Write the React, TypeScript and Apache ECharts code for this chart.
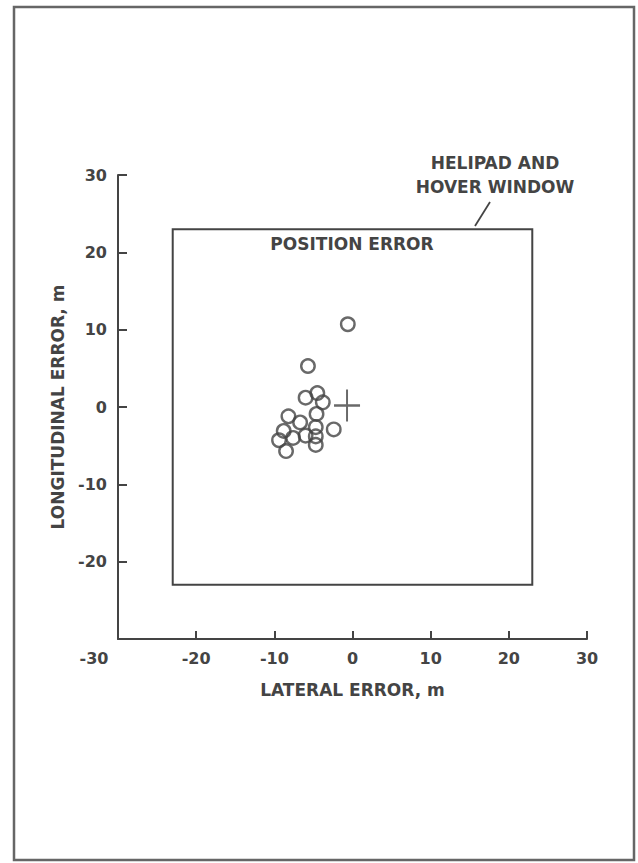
import React, { useEffect, useRef } from "react";
import * as echarts from "echarts";

const LATERAL = [-0.6, -5.7, -6.0, -4.5, -3.8, -4.6, -8.2, -6.7, -4.7, -2.4, -8.8, -7.6, -6.0, -4.7, -9.4, -4.7, -8.5];
const LONGITUDINAL = [10.7, 5.3, 1.2, 1.8, 0.6, -0.9, -1.2, -2.0, -2.6, -2.9, -3.1, -4.0, -3.7, -3.8, -4.3, -4.9, -5.7];
const TARGET = [-0.7, 0.2];
const WINDOW_HALF = 23;
const AXIS_MIN = -30;
const AXIS_MAX = 30;
const AXIS_STEP = 10;

const INK = "#444444";
const FONT = "DejaVu Sans";

export default function App() {
  const ref = useRef<HTMLDivElement>(null);
  useEffect(() => {
    if (!ref.current) return;
    const chart = echarts.init(ref.current, null, { renderer: "svg" });
    const points = LATERAL.map((x, i) => [x, LONGITUDINAL[i]]);
    const txt = { fontFamily: FONT, fontSize: 17, fontWeight: "bold", fill: INK };
    chart.setOption({
      animation: false,
      backgroundColor: "#ffffff",
      grid: { left: 118, right: 51, top: 175, bottom: 224 },
      xAxis: {
        type: "value",
        min: AXIS_MIN,
        max: AXIS_MAX,
        interval: AXIS_STEP,
        name: "LATERAL ERROR, m",
        nameLocation: "middle",
        nameGap: 42,
        nameTextStyle: { fontFamily: FONT, fontSize: 17, fontWeight: "bold", color: INK },
        axisLine: { show: true, onZero: false, lineStyle: { color: INK, width: 2 } },
        axisTick: { show: true, inside: true, length: 8, lineStyle: { color: INK, width: 2 } },
        axisLabel: {
          margin: 11,
          fontFamily: FONT,
          fontSize: 16,
          fontWeight: "bold",
          color: INK,
          formatter: (v: number) => (v === AXIS_MIN ? "{m|" + v + "}" : String(v)),
          rich: {
            m: { fontFamily: FONT, fontSize: 16, fontWeight: "bold", color: INK, padding: [0, 48, 0, 0] },
          },
        },
        splitLine: { show: false },
      },
      yAxis: {
        type: "value",
        min: AXIS_MIN,
        max: AXIS_MAX,
        interval: AXIS_STEP,
        name: "LONGITUDINAL ERROR, m",
        nameLocation: "middle",
        nameGap: 52,
        nameTextStyle: { fontFamily: FONT, fontSize: 17, fontWeight: "bold", color: INK },
        axisLine: { show: true, onZero: false, lineStyle: { color: INK, width: 2 } },
        axisTick: { show: true, inside: true, length: 9, lineStyle: { color: INK, width: 2 } },
        axisLabel: {
          margin: 11,
          fontFamily: FONT,
          fontSize: 16,
          fontWeight: "bold",
          color: INK,
          showMinLabel: false,
        },
        splitLine: { show: false },
      },
      series: [
        {
          type: "scatter",
          data: points,
          symbol: "circle",
          symbolSize: 13.5,
          itemStyle: { color: "rgba(255,255,255,0)", borderColor: INK, borderWidth: 2.4 },
          markArea: {
            silent: true,
            itemStyle: { color: "rgba(0,0,0,0)", borderColor: INK, borderWidth: 2 },
            data: [[{ coord: [-WINDOW_HALF, WINDOW_HALF] }, { coord: [WINDOW_HALF, -WINDOW_HALF] }]],
          },
        },
        {
          type: "scatter",
          data: [TARGET],
          symbol: "path://M0,16 L26,16 M13,0 L13,32",
          symbolSize: [26, 32],
          itemStyle: { color: "rgba(0,0,0,0)", borderColor: INK, borderWidth: 2.2 },
        },
      ],
      graphic: [
        {
          type: "rect",
          shape: { x: 14, y: 7, width: 620, height: 853 },
          style: { fill: "none", stroke: "#666", lineWidth: 2.5 },
        },
        {
          type: "text",
          style: { ...txt, x: 352, y: 244, text: "POSITION ERROR", textAlign: "center", textVerticalAlign: "middle" },
        },
        {
          type: "text",
          style: { ...txt, x: 495, y: 163, text: "HELIPAD AND", textAlign: "center", textVerticalAlign: "middle" },
        },
        {
          type: "text",
          style: { ...txt, x: 495, y: 187, text: "HOVER WINDOW", textAlign: "center", textVerticalAlign: "middle" },
        },
        {
          type: "line",
          shape: { x1: 490, y1: 202, x2: 475, y2: 226 },
          style: { stroke: INK, lineWidth: 1.8 },
        },
      ],
    });
    return () => chart.dispose();
  }, []);
  return (
    <div
      ref={ref}
      style={{ position: "fixed", left: 0, top: 0, width: 638, height: 863, background: "#fff" }}
    />
  );
}
